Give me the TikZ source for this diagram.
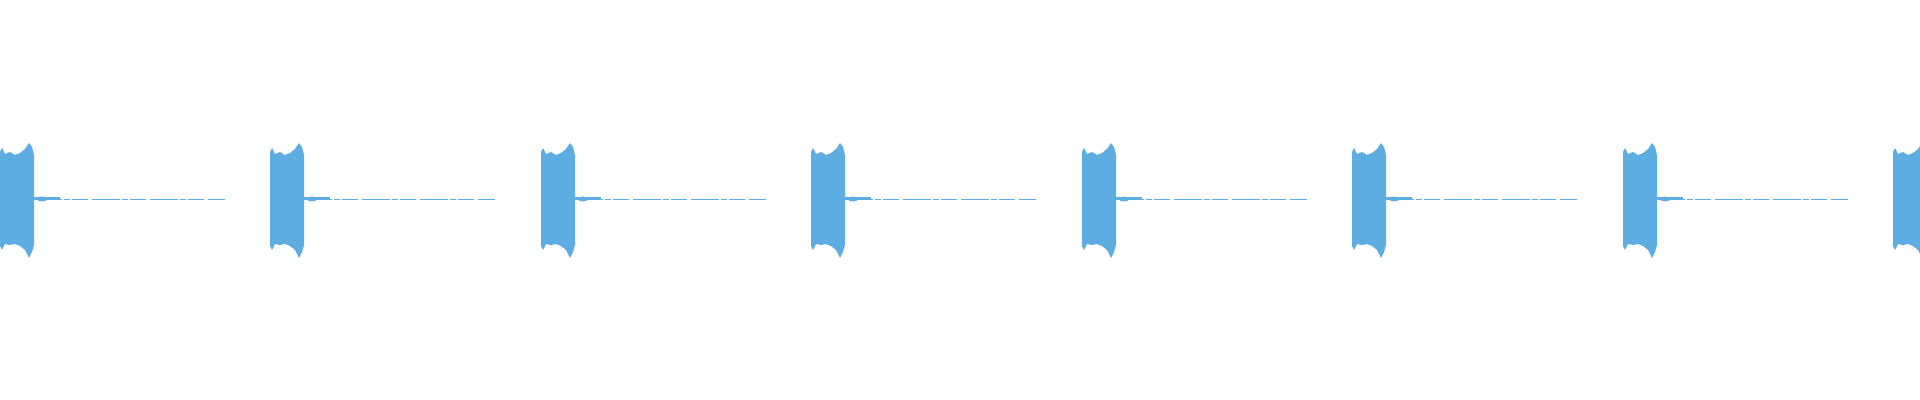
\documentclass[tikz,border=0pt]{standalone}
\definecolor{wave}{RGB}{94,173,226}
\begin{document}
\begin{tikzpicture}[x=0.5pt,y=-0.5pt,
  burst/.style={fill=wave,draw=none},
  tail/.style={draw=wave,line width=0.4pt,dash pattern=on 14pt off 1pt on 3pt off 1pt on 8pt off 2pt}]
\useasboundingbox (0,0) rectangle (1920,400);
\clip (0,0) rectangle (1920,400);
\foreach \s/\n in {0/b1,270/b2,541/b3,811/b4,1082/b5,1352/b6,1623/b7,1893/b8}{
  \begin{scope}[shift={(\s,0)}]
  \fill[burst] (0,152) -- (2,148) -- (5,154) -- (10,152) -- (15,155) -- (20,153) -- (25,149) -- (29,143) -- (32,147) -- (34,155) -- (34,245)
     -- (32,252) -- (29,258) -- (25,250) -- (20,246) -- (15,244) -- (10,245) -- (5,244) -- (2,250) -- (0,246) -- cycle;
  \coordinate (\n) at (34,199);
  \coordinate (\n e) at (225,199);
  \fill[wave] (42,199) ellipse (5 and 2.5);
  \fill[wave] (34,197.5) rectangle (60,200.5);
  \draw[tail] (\n) -- (\n e);
  \end{scope}
}
\end{tikzpicture}
\end{document}
